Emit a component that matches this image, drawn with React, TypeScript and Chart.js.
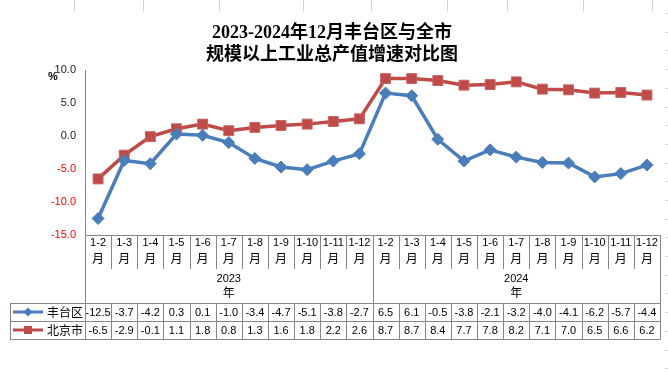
import React, { useEffect, useRef } from 'react';
import { Chart, registerables } from 'chart.js';

Chart.register(...registerables);

// ---- data ----
const months = ['1-2', '1-3', '1-4', '1-5', '1-6', '1-7', '1-8', '1-9', '1-10', '1-11', '1-12',
  '1-2', '1-3', '1-4', '1-5', '1-6', '1-7', '1-8', '1-9', '1-10', '1-11', '1-12'];
const years = ['2023', '2024'];
const monthsPerYear = [11, 11];
const fengtai = [-12.5, -3.7, -4.2, 0.3, 0.1, -1.0, -3.4, -4.7, -5.1, -3.8, -2.7,
  6.5, 6.1, -0.5, -3.8, -2.1, -3.2, -4.0, -4.1, -6.2, -5.7, -4.4];
const beijing = [-6.5, -2.9, -0.1, 1.1, 1.8, 0.8, 1.3, 1.6, 1.8, 2.2, 2.6,
  8.7, 8.7, 8.4, 7.7, 7.8, 8.2, 7.1, 7.0, 6.5, 6.6, 6.2];
const seriesNames = ['丰台区', '北京市'];
const titleLines = ['2023-2024年12月丰台区与全市', '规模以上工业总产值增速对比图'];
const unitLabel = '%';
const monthSuffix = '月';
const yearSuffix = '年';
const yMin = -15;
const yMax = 10;
const yStep = 5;

// ---- styles ----
const BLUE = '#4A7EBB';
const RED = '#BE4B48';
const GRID = '#868686';
const NUM_FONT = '"Liberation Sans", Arial, sans-serif';
const CJK_FONT = '"Noto Sans CJK SC", sans-serif';
const TITLE_FONT = '"Liberation Serif", "Noto Sans CJK SC", serif';

const decorPlugin = {
  id: 'decor',
  beforeDraw(chart: any) {
    const { ctx, width, height } = chart;
    ctx.save();
    ctx.fillStyle = '#ffffff';
    ctx.fillRect(0, 0, width, height);
    // faint spreadsheet cell borders
    ctx.strokeStyle = '#d4d4d4';
    ctx.lineWidth = 1;
    const tops = [74, 143, 219, 303, 371, 447, 507, 583, 652];
    tops.forEach((x) => {
      ctx.beginPath();
      ctx.moveTo(x + 0.5, 0);
      ctx.lineTo(x + 0.5, 12);
      ctx.stroke();
    });
    for (let y = 13; y < height; y += 18.7) {
      ctx.beginPath();
      ctx.moveTo(665, Math.round(y) + 0.5);
      ctx.lineTo(668, Math.round(y) + 0.5);
      ctx.stroke();
    }
    ctx.restore();
  },
  afterDraw(chart: any) {
    const { ctx, chartArea } = chart;
    const { left, right, bottom } = chartArea;
    const xs = chart.scales.x;
    const n = months.length;
    const bounds: number[] = [];
    for (let i = 0; i <= n; i++) {
      if (i === 0) bounds.push(left);
      else if (i === n) bounds.push(right);
      else bounds.push((xs.getPixelForValue(i - 1) + xs.getPixelForValue(i)) / 2);
    }
    const px = (v: number) => Math.round(v) + 0.5;
    const monthBottom = bottom + 34;
    const yearBottom = bottom + 68;
    const row1Bottom = bottom + 86;
    const row2Bottom = bottom + 104;
    const legendLeft = 10;

    ctx.save();
    // title
    ctx.fillStyle = '#000';
    ctx.textAlign = 'center';
    ctx.textBaseline = 'middle';
    ctx.font = 'bold 18px ' + TITLE_FONT;
    ctx.fillText(titleLines[0], 332, 33);
    ctx.fillText(titleLines[1], 332, 55);

    // unit
    ctx.font = 'bold 11px ' + NUM_FONT;
    ctx.fillText(unitLabel, 53, 77);

    // table lines
    ctx.strokeStyle = GRID;
    ctx.lineWidth = 1;
    const line = (x1: number, y1: number, x2: number, y2: number) => {
      ctx.beginPath();
      ctx.moveTo(x1, y1);
      ctx.lineTo(x2, y2);
      ctx.stroke();
    };
    line(left, px(bottom), right, px(bottom));
    for (let i = 0; i <= n; i++) {
      const x = px(bounds[i]);
      line(x, bottom, x, monthBottom);
      line(x, yearBottom, x, row2Bottom);
    }
    line(px(left), bottom, px(left), row2Bottom);
    line(px(right), bottom, px(right), row2Bottom);
    let acc = 0;
    for (let k = 0; k < monthsPerYear.length - 1; k++) {
      acc += monthsPerYear[k];
      line(px(bounds[acc]), bottom, px(bounds[acc]), yearBottom);
    }
    [yearBottom, row1Bottom, row2Bottom].forEach((y) => line(legendLeft, px(y), px(right), px(y)));
    line(px(legendLeft), yearBottom, px(legendLeft), row2Bottom);

    // month labels
    ctx.fillStyle = '#000';
    for (let i = 0; i < n; i++) {
      const cx = xs.getPixelForValue(i);
      ctx.font = '11px ' + NUM_FONT;
      ctx.fillText(months[i], cx, bottom + 8);
      ctx.font = '12px ' + CJK_FONT;
      ctx.fillText(monthSuffix, cx, bottom + 23);
    }
    // year labels
    acc = 0;
    years.forEach((yr, k) => {
      const cx = (bounds[acc] + bounds[acc + monthsPerYear[k]]) / 2;
      ctx.font = '11px ' + NUM_FONT;
      ctx.fillText(yr, cx, bottom + 44);
      ctx.font = '12px ' + CJK_FONT;
      ctx.fillText(yearSuffix, cx, bottom + 57);
      acc += monthsPerYear[k];
    });
    // data rows
    const rows = [fengtai, beijing];
    const rowCenters = [(yearBottom + row1Bottom) / 2, (row1Bottom + row2Bottom) / 2];
    ctx.font = '11px ' + NUM_FONT;
    rows.forEach((vals, r) => {
      vals.forEach((v, i) => {
        ctx.fillText(v.toFixed(1), xs.getPixelForValue(i), rowCenters[r] + 0.5);
      });
    });
    // legend keys
    const colors = [BLUE, RED];
    rows.forEach((_, r) => {
      const cy = rowCenters[r];
      ctx.strokeStyle = colors[r];
      ctx.lineWidth = 3;
      line(13, cy, 43, cy);
      ctx.fillStyle = colors[r];
      if (r === 0) {
        ctx.beginPath();
        ctx.moveTo(28, cy - 4.5);
        ctx.lineTo(32.5, cy);
        ctx.lineTo(28, cy + 4.5);
        ctx.lineTo(23.5, cy);
        ctx.closePath();
        ctx.fill();
      } else {
        ctx.fillRect(24, cy - 4, 8, 8);
      }
      ctx.fillStyle = '#000';
      ctx.textAlign = 'left';
      ctx.font = '12px ' + CJK_FONT;
      ctx.fillText(seriesNames[r], 47, cy + 0.5);
      ctx.textAlign = 'center';
    });
    ctx.restore();
  },
};

export default function App() {
  const canvasRef = useRef<HTMLCanvasElement | null>(null);

  useEffect(() => {
    const canvas = canvasRef.current;
    if (!canvas) return;
    const chart = new Chart(canvas, {
      type: 'line',
      data: {
        labels: months.map((m, i) => m + '_' + i),
        datasets: [
          {
            label: seriesNames[0],
            data: fengtai,
            borderColor: BLUE,
            backgroundColor: BLUE,
            borderWidth: 3.5,
            pointStyle: 'rectRot',
            pointRadius: 6,
            pointBorderWidth: 1,
            pointBackgroundColor: BLUE,
            pointBorderColor: BLUE,
            tension: 0,
          },
          {
            label: seriesNames[1],
            data: beijing,
            borderColor: RED,
            backgroundColor: RED,
            borderWidth: 3.5,
            pointStyle: 'rect',
            pointRadius: 7,
            pointBorderWidth: 1,
            pointBackgroundColor: RED,
            pointBorderColor: '#c86461',
            tension: 0,
          },
        ],
      },
      options: {
        animation: false,
        responsive: false,
        events: [],
        layout: { padding: { top: 70, bottom: 137, right: 5, left: 0 } },
        plugins: {
          legend: { display: false },
          title: { display: false },
          tooltip: { enabled: false },
        },
        scales: {
          x: {
            type: 'category',
            display: false,
            offset: true,
          },
          y: {
            min: yMin,
            max: yMax,
            afterFit(scale: any) {
              scale.width = 85;
            },
            grid: { display: false, drawTicks: false },
            border: { display: true, color: GRID, width: 1 },
            ticks: {
              stepSize: yStep,
              padding: 9,
              font: { family: NUM_FONT, size: 11 },
              color: (c: any) => (c.tick && c.tick.value < 0 ? '#FF0000' : '#1a1a1a'),
              callback: (v: any) => Number(v).toFixed(1),
            },
          },
        },
      },
      plugins: [decorPlugin],
    });
    return () => chart.destroy();
  }, []);

  return (
    <div style={{ position: 'fixed', left: 0, top: 0, width: 668, height: 372, background: '#fff' }}>
      <canvas ref={canvasRef} width={668} height={372} style={{ width: 668, height: 372, display: 'block' }} />
    </div>
  );
}
